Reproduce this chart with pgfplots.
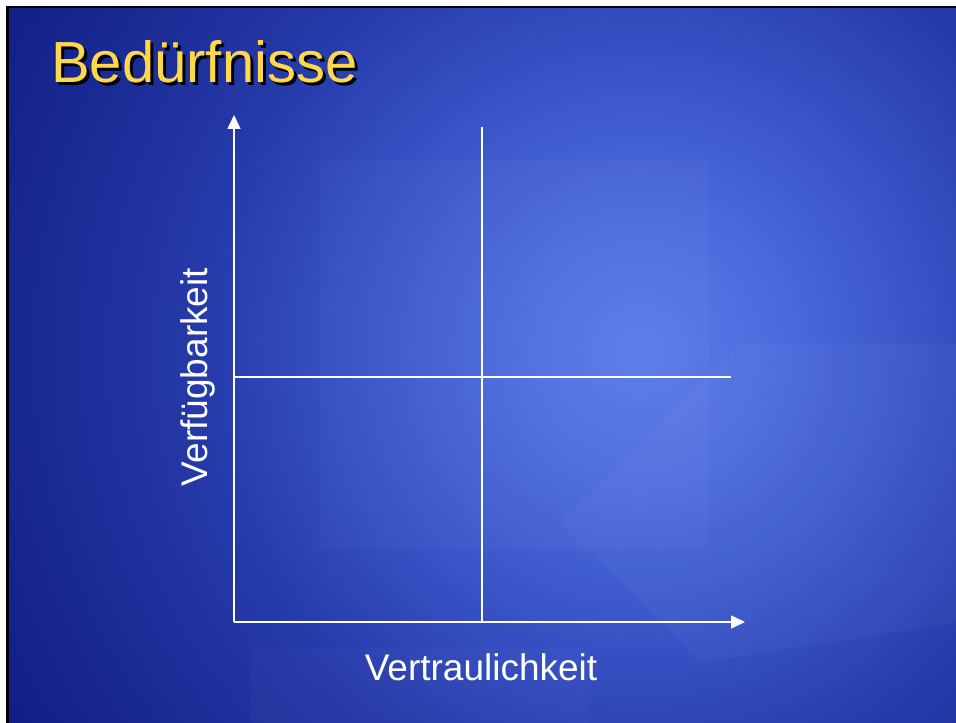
\documentclass[border=0pt]{standalone}
\usepackage{pgfplots}
\pgfplotsset{compat=1.18}
\usepackage{fontspec}
\setmainfont{Liberation Sans}
\usetikzlibrary{arrows.meta}
\definecolor{titleyellow}{HTML}{FFD84A}
\definecolor{bgA}{HTML}{5C7CEA}
\definecolor{bgB}{HTML}{4B69DC}
\definecolor{bgC}{HTML}{3651C4}
\definecolor{bgD}{HTML}{2539A8}
\definecolor{bgE}{HTML}{17268F}
\definecolor{bgF}{HTML}{0F1C84}
\pgfdeclareradialshading{slidebg}{\pgfpoint{0bp}{0bp}}{%
  color(0bp)=(bgA); color(5bp)=(bgB); color(10bp)=(bgC); color(15bp)=(bgD);
  color(21.5bp)=(bgE); color(25bp)=(bgF); color(50bp)=(bgF)}
\begin{document}
\begin{tikzpicture}[x=1pt,y=1pt]
  % page and slide frame
  \fill[white] (0,0) rectangle (956,723);
  \fill[black] (6,0) rectangle (956,717);
  \begin{scope}
    \clip (9,0) rectangle (956,714);
    \shade[shading=slidebg] (640,373) circle (750);
    % faint decorative shapes
    \fill[white, opacity=0.025] (320,173) rectangle (710,563);
    \fill[white, opacity=0.02] (250,0) rectangle (590,75);
    \fill[white, opacity=0.03] (560,200) -- (740,380) -- (956,380) -- (956,100) -- (700,60) -- cycle;
  \end{scope}
  % title with shadow
  \node[anchor=base west, inner sep=0, text=black, font=\fontsize{58}{60}\selectfont] at (54,637) {Bedürfnisse};
  \node[anchor=base west, inner sep=0, text=titleyellow, font=\fontsize{58}{60}\selectfont] at (51,640) {Bedürfnisse};
  \begin{axis}[
    at={(234pt,101pt)}, anchor=south west,
    scale only axis, width=511pt, height=507pt,
    xmin=0, xmax=511, ymin=0, ymax=507,
    hide axis, clip=false]
    \addplot[white, line width=1.5pt, -{Triangle[width=13pt,length=14pt]}] coordinates {(0,0) (511,0)};
    \addplot[white, line width=1.5pt, -{Triangle[width=13pt,length=14pt]}] coordinates {(0,0) (0,507)};
    \addplot[white, line width=1.2pt] coordinates {(248,0) (248,495)};
    \addplot[white, line width=1.2pt] coordinates {(0,245) (497,245)};
    \node[anchor=base, inner sep=0, text=white, font=\fontsize{37}{40}\selectfont] at (axis cs:247,-58) {Vertraulichkeit};
    \node[anchor=base, rotate=90, inner sep=0, text=white, font=\fontsize{37}{40}\selectfont] at (axis cs:-27,245) {Verfügbarkeit};
  \end{axis}
\end{tikzpicture}
\end{document}
